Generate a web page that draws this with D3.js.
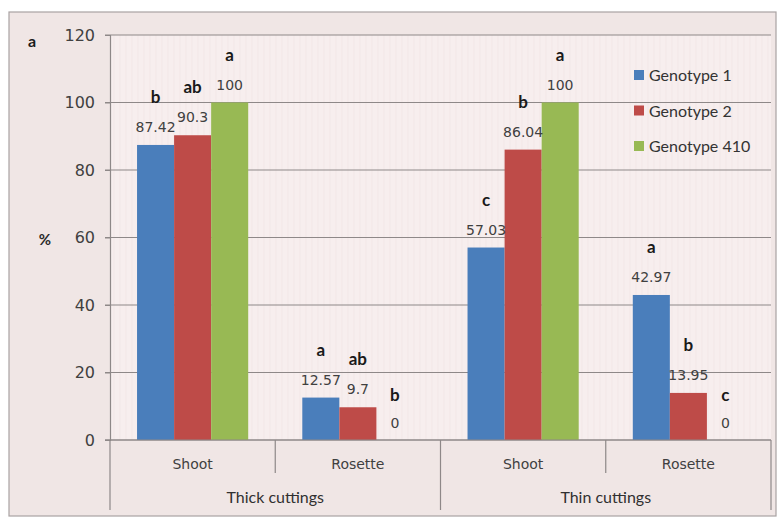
<!DOCTYPE html>
<html>
<head>
<meta charset="utf-8">
<script src="https://cdn.jsdelivr.net/npm/d3@7"></script>
<style>
  html, body { margin: 0; padding: 0; background: #fff; }
  svg { display: block; }
</style>
</head>
<body>
<svg id="chart" width="780" height="520"></svg>
<script>
// Rooting outcome (%) per genotype, grouped by cutting type and organ
const cuttingTypes = ["Thick cuttings", "Thin cuttings"];
const organs = ["Shoot", "Rosette"];
const genotypes = ["Genotype 1", "Genotype 2", "Genotype 410"];
const genotypeColors = ["#4a7ebb", "#be4b48", "#98b954"];

// values[group][genotype], groups in order: Thick/Shoot, Thick/Rosette, Thin/Shoot, Thin/Rosette
const values = [
  [87.42, 90.3, 100],
  [12.57, 9.7, 0],
  [57.03, 86.04, 100],
  [42.97, 13.95, 0]
];
const valueLabels = [
  ["87.42", "90.3", "100"],
  ["12.57", "9.7", "0"],
  ["57.03", "86.04", "100"],
  ["42.97", "13.95", "0"]
];
const letters = [
  ["b", "ab", "a"],
  ["a", "ab", "b"],
  ["c", "b", "a"],
  ["a", "b", "c"]
];
const yTicks = [0, 20, 40, 60, 80, 100, 120];

const svg = d3.select("#chart");
const plot = { left: 110, right: 771, top: 35, bottom: 440 };

// chart frame
svg.append("rect").attr("x", 0).attr("y", 0).attr("width", 780).attr("height", 520).attr("fill", "#ffffff");
svg.append("rect").attr("x", 9).attr("y", 12).attr("width", 767).attr("height", 504)
  .attr("fill", "#f0e6e5").attr("stroke", "#a9a2a2").attr("stroke-width", 1.2);
svg.append("rect").attr("x", plot.left).attr("y", plot.top)
  .attr("width", plot.right - plot.left).attr("height", plot.bottom - plot.top)
  .attr("fill", "#f7eeee");

// faint vertical texture in the plot area
const stripes = d3.range(plot.left + 4, plot.right, 6);
svg.append("g").selectAll("line").data(stripes).join("line")
  .attr("x1", d => d).attr("x2", d => d)
  .attr("y1", plot.top).attr("y2", plot.bottom)
  .attr("stroke", "#f2e7e7").attr("stroke-width", 1);

const groupKeys = d3.range(values.length);
const x0 = d3.scaleBand().domain(groupKeys).range([plot.left, plot.right]).paddingInner(0).paddingOuter(0);
const x1 = d3.scaleBand().domain(d3.range(genotypes.length)).range([0, x0.bandwidth()]).paddingInner(0).paddingOuter(0.73);
const y = d3.scaleLinear().domain([0, 120]).range([plot.bottom, plot.top]);

// gridlines
svg.append("g").selectAll("line").data(yTicks).join("line")
  .attr("x1", plot.left - 5).attr("x2", plot.right)
  .attr("y1", d => y(d)).attr("y2", d => y(d))
  .attr("stroke", "#8e8888").attr("stroke-width", 1.2);

// y axis
const yAxis = svg.append("g").attr("transform", `translate(${plot.left},0)`)
  .call(d3.axisLeft(y).tickValues(yTicks).tickSize(5).tickPadding(10));
yAxis.select(".domain").attr("stroke", "#8e8888").attr("stroke-width", 1.2);
yAxis.selectAll(".tick line").attr("stroke", "#8e8888");
yAxis.selectAll("text").attr("font-family", "DejaVu Sans, Verdana, sans-serif")
  .attr("font-size", 16).attr("fill", "#404040");

svg.append("text").attr("x", 45).attr("y", 245).attr("text-anchor", "middle")
  .attr("font-family", "Lato, sans-serif").attr("font-weight", "bold")
  .attr("font-size", 15).attr("fill", "#2a2a2a").text("%");
svg.append("text").attr("x", 32).attr("y", 47).attr("text-anchor", "middle")
  .attr("font-family", "Lato, sans-serif").attr("font-weight", "bold")
  .attr("font-size", 16).attr("fill", "#1a1a1a").text("a");

// bars
const groups = svg.append("g").selectAll("g").data(groupKeys).join("g")
  .attr("transform", g => `translate(${x0(g)},0)`);

groups.selectAll("rect").data(g => values[g].map((v, i) => ({ g, i, v }))).join("rect")
  .attr("x", d => x1(d.i))
  .attr("width", x1.bandwidth())
  .attr("y", d => y(d.v))
  .attr("height", d => y(0) - y(d.v))
  .attr("fill", d => genotypeColors[d.i]);

// value labels
groups.selectAll("text.val").data(g => values[g].map((v, i) => ({ g, i, v }))).join("text")
  .attr("class", "val")
  .attr("x", d => x1(d.i) + x1.bandwidth() / 2)
  .attr("y", d => d.v === 0 ? y(0) - 12 : y(d.v) - 13)
  .attr("text-anchor", "middle")
  .attr("font-family", "DejaVu Sans, Verdana, sans-serif")
  .attr("font-size", 14).attr("fill", "#404040")
  .text(d => valueLabels[d.g][d.i]);

// significance letters
groups.selectAll("text.let").data(g => values[g].map((v, i) => ({ g, i, v }))).join("text")
  .attr("class", "let")
  .attr("x", d => x1(d.i) + x1.bandwidth() / 2)
  .attr("y", d => d.v === 0 ? y(0) - 39 : y(d.v) - 42)
  .attr("text-anchor", "middle")
  .attr("font-family", "Lato, sans-serif").attr("font-weight", "bold")
  .attr("font-size", 17).attr("fill", "#1a1a1a")
  .text(d => letters[d.g][d.i]);

// category axis
const axisColor = "#8e8888";
svg.append("line").attr("x1", plot.left - 5).attr("x2", plot.right)
  .attr("y1", plot.bottom).attr("y2", plot.bottom)
  .attr("stroke", axisColor).attr("stroke-width", 1.2);

groupKeys.forEach(g => {
  const isOuter = g % organs.length === 0;
  svg.append("line").attr("x1", x0(g)).attr("x2", x0(g))
    .attr("y1", plot.bottom).attr("y2", isOuter ? 510 : 473)
    .attr("stroke", axisColor).attr("stroke-width", 1.2);
  svg.append("text").attr("x", x0(g) + x0.bandwidth() / 2).attr("y", 469)
    .attr("text-anchor", "middle")
    .attr("font-family", "DejaVu Sans, Verdana, sans-serif")
    .attr("font-size", 14).attr("fill", "#404040")
    .text(organs[g % organs.length]);
});
svg.append("line").attr("x1", plot.right).attr("x2", plot.right)
  .attr("y1", plot.bottom).attr("y2", 510)
  .attr("stroke", axisColor).attr("stroke-width", 1.2);

cuttingTypes.forEach((c, k) => {
  const a = x0(k * organs.length);
  const b = x0(k * organs.length + organs.length - 1) + x0.bandwidth();
  svg.append("text").attr("x", (a + b) / 2).attr("y", 503)
    .attr("text-anchor", "middle")
    .attr("font-family", "Lato, sans-serif")
    .attr("font-size", 16).attr("fill", "#303030")
    .text(c);
});

// legend
const legend = svg.append("g").selectAll("g").data(genotypes).join("g")
  .attr("transform", (d, i) => `translate(634,${75 + i * 35.5})`);
legend.append("rect").attr("x", 0).attr("y", -5).attr("width", 10).attr("height", 10)
  .attr("fill", (d, i) => genotypeColors[i]);
legend.append("text").attr("x", 15).attr("y", 6)
  .attr("font-family", "Lato, sans-serif")
  .attr("font-size", 16).attr("fill", "#333333")
  .text(d => d);
</script>
</body>
</html>
